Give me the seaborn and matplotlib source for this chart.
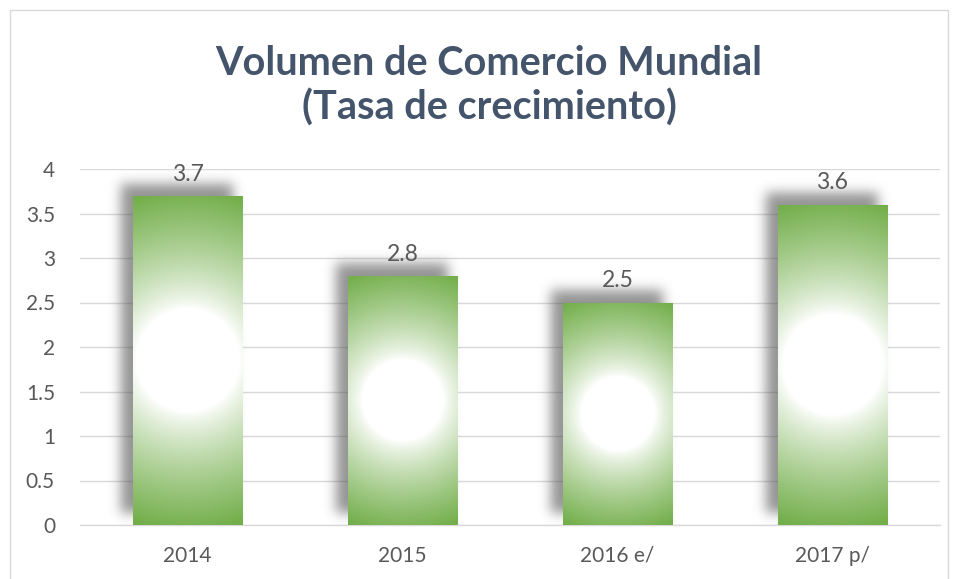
import numpy as np
import pandas as pd
import matplotlib
matplotlib.use("Agg")
import matplotlib.pyplot as plt
import seaborn as sns
from matplotlib.patches import Rectangle

categories = ["2014", "2015", "2016 e/", "2017 p/"]
values = [3.7, 2.8, 2.5, 3.6]
yticks = [0, 0.5, 1, 1.5, 2, 2.5, 3, 3.5, 4]
ytick_labels = ["0", "0.5", "1", "1.5", "2", "2.5", "3", "3.5", "4"]
title = "Volumen de Comercio Mundial\n(Tasa de crecimiento)"

sns.set_theme(style="white")
plt.rcParams['font.family'] = ['Lato', 'DejaVu Sans']

W, H = 954, 579
fig = plt.figure(figsize=(W / 100, H / 100), dpi=100)
ax_l, ax_r, ax_t, ax_b = 80, 940, 169, 525
ax = fig.add_axes([ax_l / W, 1 - ax_b / H, (ax_r - ax_l) / W, (ax_b - ax_t) / H])

df = pd.DataFrame({"cat": categories, "val": values})
green = np.array([0x70, 0xAD, 0x47]) / 255.0
sns.barplot(data=df, x="cat", y="val", ax=ax, color="#70AD47", width=0.51,
            edgecolor="none", linewidth=0, saturation=1, zorder=3)

ax.set_xlim(-0.5, 3.5)
ax.set_ylim(0, 4)
px_x = (ax_r - ax_l) / 4.0
px_y = (ax_b - ax_t) / 4.0

def blur1d(a, sigma, axis):
    r = int(3 * sigma)
    k = np.exp(-0.5 * (np.arange(-r, r + 1) / sigma) ** 2)
    k /= k.sum()
    return np.apply_along_axis(lambda m: np.convolve(m, k, mode="same"), axis, a)

for bar in ax.patches:
    x0 = bar.get_x(); w = bar.get_width(); h = bar.get_height()
    wp = int(round(w * px_x)); hp = int(round(h * px_y))
    # shadow
    pad = 36
    off_x, off_y = -12, -12  # pixels (left, up)
    sw, sh = wp + 2 * pad, hp + 2 * pad
    mask = np.zeros((sh, sw))
    r0 = pad + off_y; c0 = pad + off_x
    mask[r0:r0 + hp, c0:c0 + wp + 2] = 1.0
    mask = blur1d(blur1d(mask, 6, 0), 6, 1)
    img = np.zeros((sh, sw, 4))
    img[..., :3] = 0.3
    img[..., 3] = mask * 0.6
    ext = (x0 - pad / px_x, x0 + w + pad / px_x, 0 - pad / px_y, h + pad / px_y)
    ax.imshow(img, extent=ext, origin="upper", aspect="auto", zorder=2,
              interpolation="bilinear")
    # radial gradient
    yy, xx = np.mgrid[0:hp, 0:wp]
    cx, cy = (wp - 1) / 2, (hp - 1) / 2
    d = np.sqrt((xx - cx) ** 2 + (yy - cy) ** 2)
    dmax = np.sqrt(cx ** 2 + cy ** 2)
    t = np.clip((d / dmax - 0.3) / 0.7, 0, 1)
    t = t ** 0.8
    g = np.ones((hp, wp, 3)) * (1 - t[..., None]) + green * t[..., None]
    im = ax.imshow(g, extent=(x0, x0 + w, 0, h), origin="upper", aspect="auto",
                   zorder=4, interpolation="bilinear")
    im.set_clip_path(bar)
    ax.annotate(f"{h:.1f}", (x0 + w / 2, h), xytext=(0, 8), textcoords="offset points",
                ha="center", va="bottom", fontsize=16.5, color="#595959", zorder=5)

ax.set_xlim(-0.5, 3.5)
ax.set_ylim(0, 4)
ax.set_yticks(yticks)
ax.set_yticklabels(ytick_labels)
ax.set_xlabel("")
ax.set_ylabel("")
ax.tick_params(axis="both", length=0, labelsize=15, colors="#595959")
ax.tick_params(axis="y", pad=18)
ax.tick_params(axis="x", pad=15)
ax.yaxis.grid(True, color="#D9D9D9", linewidth=1.0, zorder=0)
ax.set_axisbelow(True)
for s in ["top", "right", "left"]:
    ax.spines[s].set_visible(False)
ax.spines["bottom"].set_color("#D9D9D9")
ax.spines["bottom"].set_linewidth(1.0)

fig.text(489 / W, 1 - 86 / H, title, ha="center", va="center", fontsize=28.5,
         fontweight="bold", color="#44546A", linespacing=1.22)

fig.add_artist(Rectangle((10 / W, -0.05), 938 / W, 1 - 10 / H + 0.05,
                         transform=fig.transFigure, fill=False,
                         edgecolor="#D9D9D9", linewidth=1.0))

fig.savefig("out.png", dpi=100)
